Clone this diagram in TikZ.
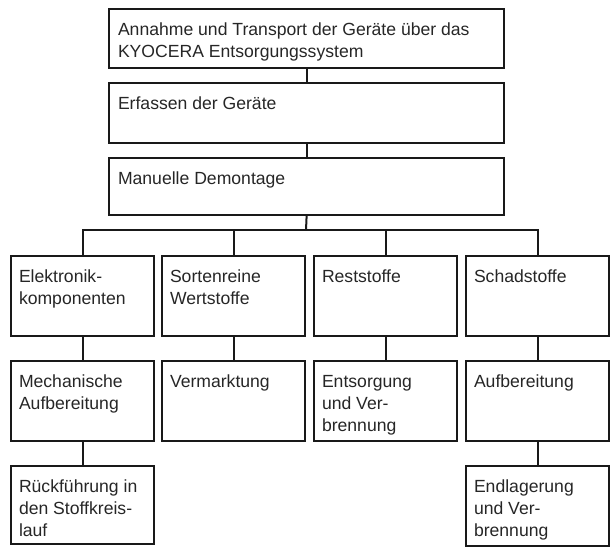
\documentclass[tikz,border=0pt]{standalone}
\usepackage{fontspec}
\setmainfont{Liberation Sans}
\usepackage{tikz}
\tikzset{box/.style={draw, line width=2.2pt, anchor=north west, inner sep=0pt, minimum width=143pt, minimum height=80pt},
  txt/.style={anchor=north west, align=left, inner sep=0pt, text=black!85, font=\fontsize{17.6}{22}\selectfont}}

\begin{document}
\begin{tikzpicture}[x=1pt, y=-1pt, line width=2pt, draw=black!90]
  \useasboundingbox (0,0) rectangle (612,548);
  \node[box, minimum width=395pt, minimum height=59pt] (annahme) at (108,8) {}; \node[txt] at ([shift={(9pt,-14pt)}]annahme.north west) {Annahme und Transport der Geräte über das\\KYOCERA Entsorgungssystem};
  \node[box, minimum width=395pt, minimum height=60pt] (erfassen) at (108,82) {}; \node[txt] at ([shift={(9pt,-14pt)}]erfassen.north west) {Erfassen der Geräte};
  \node[box, minimum width=395pt, minimum height=57pt] (demontage) at (108,157) {}; \node[txt] at ([shift={(9pt,-14pt)}]demontage.north west) {Manuelle Demontage};
  \draw (annahme.south) -- (erfassen.north); \draw (erfassen.south) -- (demontage.north);
  \node[box] (elektronik) at (10,255) {}; \node[txt] at ([shift={(8pt,-14pt)}]elektronik.north west) {Elektronik-\\komponenten};
  \node[box] (sortenrein) at (161,255) {}; \node[txt] at ([shift={(8pt,-14pt)}]sortenrein.north west) {Sortenreine\\Wertstoffe};
  \node[box] (reststoffe) at (313,255) {}; \node[txt] at ([shift={(8pt,-14pt)}]reststoffe.north west) {Reststoffe};
  \node[box] (schadstoffe) at (465,255) {}; \node[txt] at ([shift={(8pt,-14pt)}]schadstoffe.north west) {Schadstoffe};
  \coordinate (bus) at (306,230);
  \draw (demontage.south) -- (bus); \draw (elektronik.north) |- (bus) -| (schadstoffe.north);
  \draw (sortenrein.north) -- (sortenrein.north |- bus); \draw (reststoffe.north) -- (reststoffe.north |- bus);
  \node[box] (mechanisch) at (10,360) {}; \node[txt] at ([shift={(8pt,-14pt)}]mechanisch.north west) {Mechanische\\Aufbereitung};
  \node[box] (vermarktung) at (161,360) {}; \node[txt] at ([shift={(8pt,-14pt)}]vermarktung.north west) {Vermarktung};
  \node[box] (entsorgung) at (313,360) {}; \node[txt] at ([shift={(8pt,-14pt)}]entsorgung.north west) {Entsorgung\\und Ver-\\brennung};
  \node[box] (aufbereitung) at (465,360) {}; \node[txt] at ([shift={(8pt,-14pt)}]aufbereitung.north west) {Aufbereitung};
  \node[box, minimum height=78pt] (rueckfuehrung) at (10,465) {}; \node[txt] at ([shift={(8pt,-14pt)}]rueckfuehrung.north west) {Rückführung in\\den Stoffkreis-\\lauf};
  \node[box, minimum height=80pt] (endlagerung) at (465,465) {}; \node[txt] at ([shift={(8pt,-14pt)}]endlagerung.north west) {Endlagerung\\und Ver-\\brennung};
  \draw (elektronik.south) -- (mechanisch.north); \draw (sortenrein.south) -- (vermarktung.north); \draw (reststoffe.south) -- (entsorgung.north); \draw (schadstoffe.south) -- (aufbereitung.north);
  \draw (mechanisch.south) -- (rueckfuehrung.north); \draw (aufbereitung.south) -- (endlagerung.north);
\end{tikzpicture}
\end{document}
